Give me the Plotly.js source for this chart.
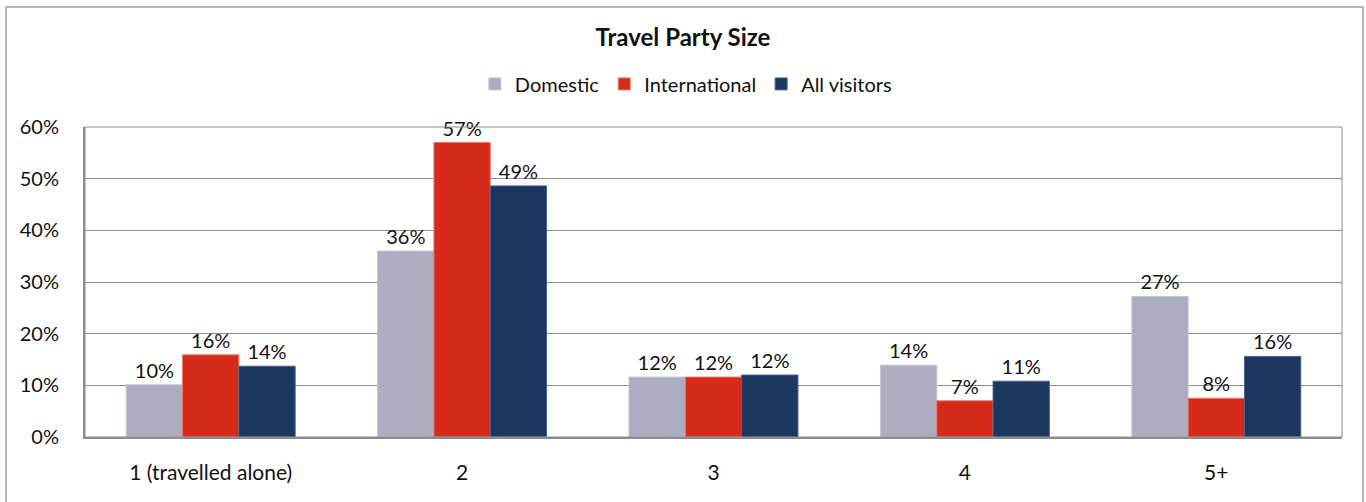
<!DOCTYPE html>
<html>
<head>
<meta charset="utf-8">
<script src="https://cdn.plot.ly/plotly-3.0.1.min.js"></script>
<style>html,body{margin:0;padding:0;background:#fff;}#chart{width:1366px;height:502px;}</style>
</head>
<body>
<div id="chart"></div>
<script>
var categories = ["1 (travelled alone)", "2", "3", "4", "5+"];
var domestic = [10.1, 36.0, 11.6, 13.9, 27.2];
var international = [15.9, 57.0, 11.6, 7.0, 7.5];
var allVisitors = [13.7, 48.6, 12.0, 10.8, 15.6];
var seriesNames = ["Domestic", "International", "All visitors"];
var yTickVals = [0, 10, 20, 30, 40, 50, 60];
var yTickText = ["0%", "10%", "20%", "30%", "40%", "50%", "60%"];

var FONT = "Lato, 'Open Sans', sans-serif";
var colors = ["#ADACC0", "#D72B19", "#1B3760"];
var edge = ["#C4C3D3", "#E8776B", "#4A6288"];
var vals = [domestic, international, allVisitors];

var traces = vals.map(function (v, i) {
  return {
    type: "bar",
    name: seriesNames[i],
    x: categories,
    y: v,
    marker: { color: colors[i], line: { color: edge[i], width: 1 } },
    texttemplate: "%{y:.0f}%",
    textposition: "outside",
    textfont: { family: FONT, size: 20, color: "#111" },
    constraintext: "none",
    cliponaxis: false,
    hoverinfo: "skip"
  };
});

var layout = {
  width: 1366,
  height: 502,
  margin: { l: 85, r: 24, t: 127, b: 65 },
  paper_bgcolor: "#fff",
  plot_bgcolor: "#fff",
  font: { family: FONT, color: "#111", size: 20 },
  title: {
    text: "<b>Travel Party Size</b>",
    x: 0.5, xref: "container", xanchor: "center",
    y: 1 - 38 / 502, yref: "container", yanchor: "middle",
    font: { family: FONT, size: 24, color: "#111" }
  },
  barmode: "group",
  bargap: 0.328,
  bargroupgap: 0,
  showlegend: true,
  legend: {
    orientation: "h",
    x: 0.478, xanchor: "center",
    y: 1.139, yanchor: "middle",
    font: { family: FONT, size: 20, color: "#111" },
    itemwidth: 30,
    traceorder: "normal"
  },
  xaxis: {
    type: "category",
    showline: true, linecolor: "#8C8C8C", linewidth: 2,
    showgrid: false, zeroline: false,
    ticks: "", ticklabelstandoff: 16,
    tickfont: { family: FONT, size: 21, color: "#111" }
  },
  yaxis: {
    range: [0, 60],
    tickmode: "array",
    tickvals: yTickVals,
    ticktext: yTickText,
    showline: true, linecolor: "#8C8C8C", linewidth: 2,
    showgrid: true, gridcolor: "#8C8C8C", gridwidth: 1,
    zeroline: false,
    ticks: "", ticklabelstandoff: 20,
    tickfont: { family: FONT, size: 20, color: "#111" },
    fixedrange: true
  },
  shapes: [
    { type: "rect", xref: "paper", yref: "paper", x0: 0, x1: 1, y0: 0, y1: 1,
      line: { color: "#8C8C8C", width: 1 }, fillcolor: "rgba(0,0,0,0)", layer: "above" },
    { type: "rect", xref: "paper", yref: "paper", x0: -0.0628, x1: 1.0167, y0: -0.25, y1: 1.387,
      line: { color: "#A0A0A0", width: 1.5 }, fillcolor: "rgba(0,0,0,0)", layer: "below" }
  ]
};

Plotly.newPlot("chart", traces, layout, { staticPlot: true, displayModeBar: false });
</script>
</body>
</html>
